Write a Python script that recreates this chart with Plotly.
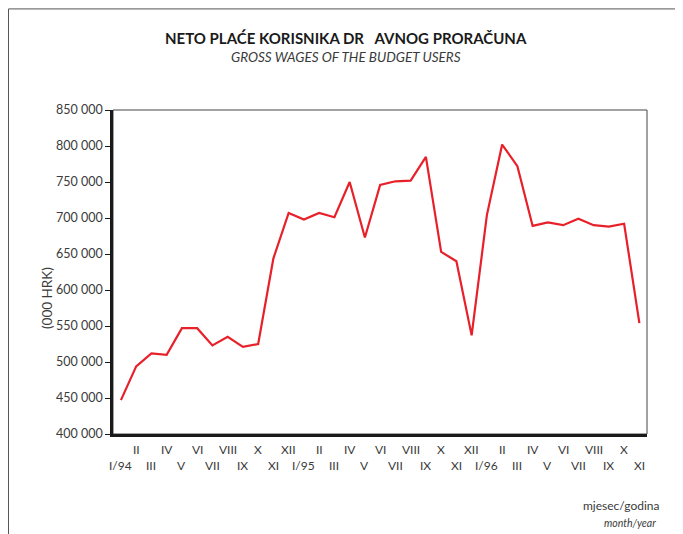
import plotly.graph_objects as go

# neto plaće korisnika državnog proračuna, mjesečno 1994-1996 (u 000 HRK)
mjeseci = ["I/94", "II", "III", "IV", "V", "VI", "VII", "VIII", "IX", "X", "XI", "XII",
           "I/95", "II", "III", "IV", "V", "VI", "VII", "VIII", "IX", "X", "XI", "XII",
           "I/96", "II", "III", "IV", "V", "VI", "VII", "VIII", "IX", "X", "XI"]
place = [447000, 494000, 512000, 510000, 547000, 547000, 523000, 535000, 521000, 525000, 644000, 707000,
         698000, 707000, 701000, 750000, 673000, 746000, 751000, 752000, 785000, 653000, 640000, 537000,
         704000, 802000, 772000, 689000, 694000, 690000, 699000, 690000, 688000, 692000, 554000]
y_tickovi = [400000, 450000, 500000, 550000, 600000, 650000, 700000, 750000, 800000, 850000]
y_oznake = ["400 000", "450 000", "500 000", "550 000", "600 000", "650 000",
            "700 000", "750 000", "800 000", "850 000"]

FONT = "Lato, 'Open Sans', sans-serif"
SIVA = "#3a3a3a"

x = list(range(len(mjeseci)))

fig = go.Figure()
fig.add_trace(go.Scatter(x=x, y=place, mode="lines",
                         line=dict(color="#e8202a", width=2.2),
                         hoverinfo="y", showlegend=False))

# oznake mjeseci u dva reda (naizmjenicno)
ann = []
for i, m in enumerate(mjeseci):
    ann.append(dict(x=i, xref="x", y=-0.048 if i % 2 else -0.098, yref="paper",
                    text=m, showarrow=False, xanchor="center", yanchor="middle",
                    font=dict(family=FONT, size=12, color=SIVA)))

ann += [
    dict(x=0.436, y=1.256, xref="paper", yref="paper", showarrow=False,
         text="<b>NETO PLAĆE KORISNIKA DR   AVNOG PRORAČUNA</b>", xanchor="center",
         font=dict(family=FONT, size=15, color="#1a1a1a")),
    dict(x=0.436, y=1.194, xref="paper", yref="paper", showarrow=False,
         text="<i>GROSS WAGES OF THE BUDGET USERS</i>", xanchor="center",
         font=dict(family=FONT, size=13.5, color=SIVA)),
    dict(x=-0.124, y=0.419, xref="paper", yref="paper", showarrow=False,
         text="(000 HRK)", textangle=-90, xanchor="center", yanchor="middle",
         font=dict(family=FONT, size=13.5, color=SIVA)),
    dict(x=1.028, y=-0.251, xref="paper", yref="paper", showarrow=False,
         text="mjesec/godina", xanchor="right",
         font=dict(family=FONT, size=12, color=SIVA)),
    dict(x=1.021, y=-0.300, xref="paper", yref="paper", showarrow=False,
         text="<i>month/year</i>", xanchor="right",
         font=dict(family=FONT, size=10.5, color=SIVA)),
]

shapes = [
    # tanki okvir grafa (gore i desno)
    dict(type="rect", xref="paper", yref="paper", x0=0, x1=1, y0=0, y1=1,
         line=dict(color="#444444", width=1), layer="below"),
    # vanjski okvir stranice
    dict(type="line", xref="paper", yref="paper", x0=-0.1957, x1=1.1, y0=1.312, y1=1.312,
         line=dict(color="#555555", width=1)),
    dict(type="line", xref="paper", yref="paper", x0=-0.1957, x1=-0.1957, y0=1.312, y1=-0.32,
         line=dict(color="#555555", width=1)),
]

# stranica ima 8px margine, pa je figura za toliko manja
fig.update_layout(
    width=675, height=526,
    margin=dict(l=105, r=36, t=102, b=100),
    paper_bgcolor="white", plot_bgcolor="white",
    annotations=ann, shapes=shapes,
    font=dict(family=FONT, size=12, color=SIVA),
)
fig.update_xaxes(range=[-0.52, 34.5], showgrid=False, zeroline=False,
                 showticklabels=False, ticks="",
                 showline=True, linecolor="#1a1a1a", linewidth=2.5)
fig.update_yaxes(range=[400000, 850000], tickvals=y_tickovi, ticktext=y_oznake,
                 showgrid=False, zeroline=False, ticks="outside", ticklen=5,
                 tickcolor="#1a1a1a", tickwidth=1,
                 showline=True, linecolor="#1a1a1a", linewidth=2.5,
                 tickfont=dict(family=FONT, size=12.5, color=SIVA))

fig.write_html("out.html")
